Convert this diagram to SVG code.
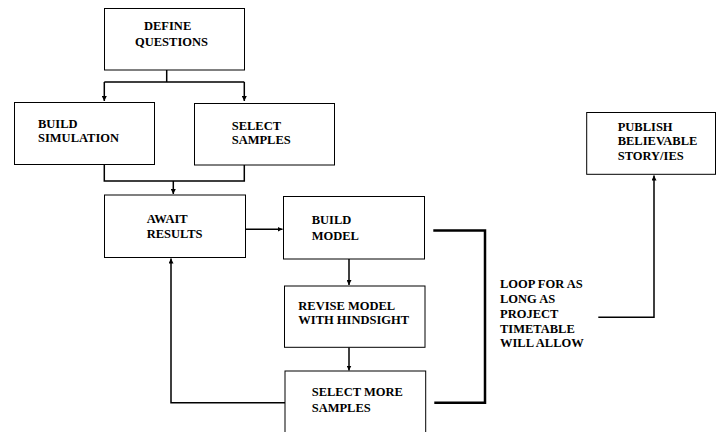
<svg xmlns="http://www.w3.org/2000/svg" width="716" height="432" viewBox="0 0 716 432" font-family="Liberation Serif, Times New Roman, serif" font-size="12.5" font-weight="bold">
<defs>
<style>
.box{fill:#fff;stroke:#000;stroke-width:1}
.c{fill:none;stroke:#000;stroke-width:1.5}
.k{fill:none;stroke:#000;stroke-width:2.5}
</style>
<marker id="ah" markerWidth="6" markerHeight="5" refX="5" refY="2.5" orient="auto" markerUnits="userSpaceOnUse">
<path d="M0,0 L5,2.5 L0,5 Z" fill="#000"/>
</marker>
</defs>
<rect width="716" height="432" fill="#fff"/>
<g id="connectors">
<path class="c" d="M166.7,70 V82 M104.3,82 H244.3"/>
<path class="c" d="M104.3,82 V101" marker-end="url(#ah)"/>
<path class="c" d="M244.3,82 V101" marker-end="url(#ah)"/>
<path class="c" d="M104.3,165 V181 H244.3 V165"/>
<path class="c" d="M173.3,181 V194" marker-end="url(#ah)"/>
<path class="c" d="M245.3,229.3 H282.5" marker-end="url(#ah)"/>
<path class="c" d="M349,259 V285" marker-end="url(#ah)"/>
<path class="c" d="M349,347.3 V370.5" marker-end="url(#ah)"/>
<path class="c" d="M285,402.7 H171 V258.5" marker-end="url(#ah)"/>
<path class="k" d="M433.3,230.5 H485 V402.7 H434.3"/>
<path class="c" d="M598.3,317.3 H654 V175.5" marker-end="url(#ah)"/>
</g>
<g id="define">
<rect class="box" x="104.5" y="8.5" width="140" height="61.5"/>
<text x="144" y="30">DEFINE</text>
<text x="135" y="45.5">QUESTIONS</text>
</g>
<g id="build-sim">
<rect class="box" x="14.5" y="102.5" width="140" height="62"/>
<text x="38" y="128">BUILD</text>
<text x="38" y="141.7">SIMULATION</text>
</g>
<g id="select-samples">
<rect class="box" x="194.5" y="103.5" width="140" height="61.5"/>
<text x="231.7" y="130">SELECT</text>
<text x="231.7" y="144">SAMPLES</text>
</g>
<g id="await">
<rect class="box" x="104.5" y="195" width="141" height="62.5"/>
<text x="146.7" y="222.7">AWAIT</text>
<text x="146.7" y="238.3">RESULTS</text>
</g>
<g id="build-model">
<rect class="box" x="283.5" y="196.5" width="141" height="62.5"/>
<text x="311.7" y="224.3">BUILD</text>
<text x="311.7" y="240">MODEL</text>
</g>
<g id="revise">
<rect class="box" x="284.5" y="286" width="140.5" height="61.3"/>
<text x="298.3" y="310">REVISE MODEL</text>
<text x="298.3" y="324.3">WITH HINDSIGHT</text>
</g>
<g id="select-more">
<rect class="box" x="285" y="371" width="140.7" height="70"/>
<text x="311.7" y="396">SELECT MORE</text>
<text x="311.7" y="412.3">SAMPLES</text>
</g>
<g id="loop-label">
<text x="500" y="287.7">LOOP FOR AS</text>
<text x="500" y="302.5">LONG AS</text>
<text x="500" y="317.7">PROJECT</text>
<text x="500" y="332.7">TIMETABLE</text>
<text x="500" y="347.3">WILL ALLOW</text>
</g>
<g id="publish">
<rect class="box" x="586.7" y="112.5" width="128.8" height="61.8"/>
<text x="617.7" y="130.7">PUBLISH</text>
<text x="617.7" y="145">BELIEVABLE</text>
<text x="617.7" y="160">STORY/IES</text>
</g>
</svg>
